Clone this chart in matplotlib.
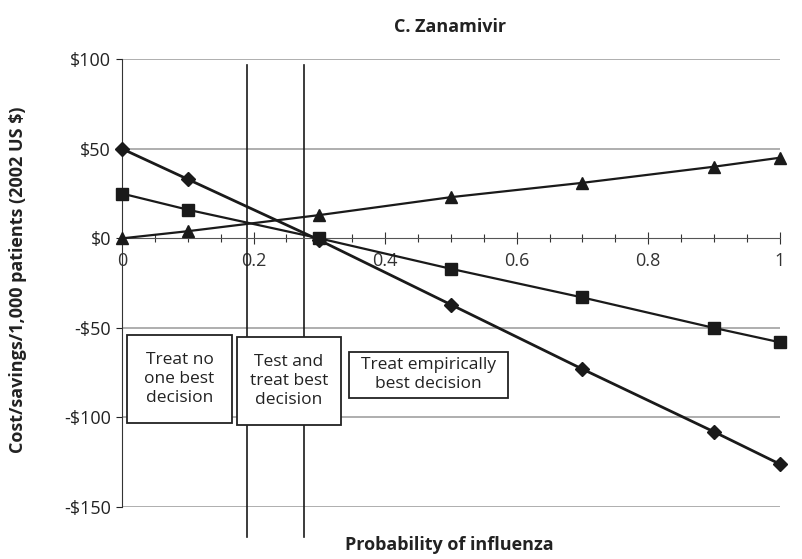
import matplotlib.pyplot as plt
from matplotlib.patches import Rectangle
from matplotlib.ticker import MultipleLocator, FuncFormatter

# probability of influenza
prob = [0, 0.1, 0.3, 0.5, 0.7, 0.9, 1.0]
# cost/savings per 1,000 patients
diamond = [50, 33, -1, -37, -73, -108, -126]
square = [25, 16, 0, -17, -33, -50, -58]
triangle = [0, 4, 13, 23, 31, 40, 45]
thresholds = [0.19, 0.277]

box_labels = ['Treat no\none best\ndecision',
              'Test and\ntreat best\ndecision',
              'Treat empirically\nbest decision']

plt.rcParams['font.family'] = ['Open Sans', 'DejaVu Sans']

fig = plt.figure(figsize=(8.03, 5.59), dpi=100)
ax = fig.add_axes([0.152, 0.093, 0.819, 0.801])

ax.set_xlim(0, 1)
ax.set_ylim(-150, 100)

for v in [100, 50, -50, -100, -150]:
    ax.axhline(v, color='#a8a8a8', lw=1.3, zorder=1)

ax.plot(prob, diamond, color='#1a1a1a', lw=2, marker='D', ms=7, zorder=3, clip_on=False)
ax.plot(prob, square, color='#1a1a1a', lw=1.6, marker='s', ms=9, zorder=3, clip_on=False)
ax.plot(prob, triangle, color='#1a1a1a', lw=1.6, marker='^', ms=9, zorder=3, clip_on=False)

for t in thresholds:
    ax.plot([t, t], [97, -167], color='#1a1a1a', lw=1.2, clip_on=False, zorder=2)

ax.spines['top'].set_visible(False)
ax.spines['right'].set_visible(False)
ax.spines['bottom'].set_position(('data', 0))
ax.spines['bottom'].set_color('#555555')
ax.spines['left'].set_color('#333333')

ax.xaxis.set_major_locator(MultipleLocator(0.2))
ax.xaxis.set_minor_locator(MultipleLocator(0.05))
ax.xaxis.set_major_formatter(FuncFormatter(lambda v, p: '%g' % round(v, 2)))
ax.tick_params(axis='x', which='both', direction='inout', length=8, width=0.8,
               labelsize=13, pad=6, colors='#333333')
ax.tick_params(axis='x', which='minor', length=6)

ax.yaxis.set_major_locator(MultipleLocator(50))
ax.yaxis.set_major_formatter(FuncFormatter(
    lambda v, p: ('-$%d' % abs(v)) if v < 0 else '$%d' % v))
ax.tick_params(axis='y', direction='out', length=4, labelsize=13, pad=4, colors='#222222')

# decision boxes (x0, x1, y0, y1 in data units)
boxes = [(0.008, 0.167, -103, -54), (0.175, 0.333, -104, -55), (0.345, 0.587, -89, -63.5)]
for (x0, x1, y0, y1), label in zip(boxes, box_labels):
    ax.add_patch(Rectangle((x0, y0), x1 - x0, y1 - y0, fc='white', ec='#222222',
                           lw=1.3, zorder=4))
    ax.text((x0 + x1) / 2, (y0 + y1) / 2, label, ha='center', va='center',
            fontsize=12.5, linespacing=1.25, color='#222222', zorder=5)

fig.text(0.56, 0.952, 'C. Zanamivir', ha='center', va='center',
         fontsize=13, fontweight='bold', color='#222222')
fig.text(0.56, 0.025, 'Probability of influenza', ha='center', va='center',
         fontsize=13, fontweight='bold', color='#222222')
fig.text(0.022, 0.5, 'Cost/savings/1,000 patients (2002 US $)', ha='center', va='center',
         rotation=90, fontsize=13, fontweight='bold', color='#222222')

fig.savefig('out.png', dpi=100)
